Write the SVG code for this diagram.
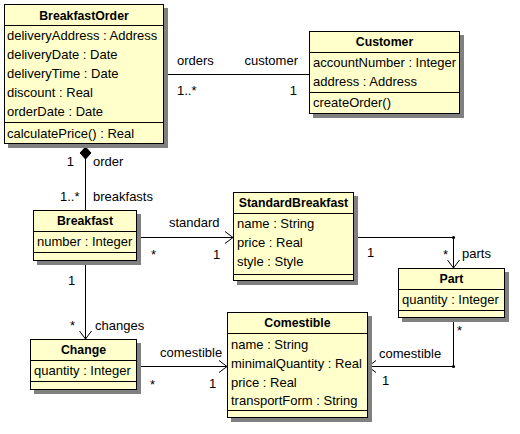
<svg xmlns="http://www.w3.org/2000/svg" width="520" height="434" viewBox="0 0 520 434">
<style>
.bg{fill:#ffffff}
.sh{fill:#808080}
.box{fill:#ffffcc;stroke:#000;stroke-width:1}
.sep{stroke:#000;stroke-width:1}
.t{font-family:"Liberation Sans",Arial,sans-serif;font-size:13px;fill:#000}
.b{font-family:"Liberation Sans",Arial,sans-serif;font-size:12.3px;font-weight:bold;fill:#000;text-anchor:middle}
.e{text-anchor:end}
.c{stroke:#000;stroke-width:1;fill:none}
</style>
<defs>
<marker id="open" markerUnits="userSpaceOnUse" viewBox="0 0 8 12" refX="8" refY="6" markerWidth="8" markerHeight="12" orient="auto" overflow="visible">
<path d="M0,0 L8,6 L0,12" fill="none" stroke="#000" stroke-width="1"/>
</marker>
</defs>
<rect class="bg" x="0" y="0" width="520" height="434"/>

<g id="connectors">
<line class="c" x1="163.5" y1="74.5" x2="309.5" y2="74.5"/>
<line class="c" x1="85.5" y1="158" x2="85.5" y2="210.5"/>
<polygon points="85.5,147 91,153 85.5,159 80,153" fill="#000" stroke="#000" stroke-width="1"/>
<line class="c" x1="136.5" y1="237.5" x2="233" y2="237.5" marker-end="url(#open)"/>
<polyline class="c" points="353.5,237.5 453.5,237.5 453.5,268" marker-end="url(#open)"/>
<circle cx="453.5" cy="237.5" r="1.6" fill="#000"/>
<polyline class="c" points="453.5,317.5 453.5,366.5 368,366.5" marker-end="url(#open)"/>
<circle cx="453.5" cy="366.5" r="1.6" fill="#000"/>
<line class="c" x1="85.5" y1="260.5" x2="85.5" y2="339" marker-end="url(#open)"/>
<line class="c" x1="136.5" y1="366.5" x2="227" y2="366.5" marker-end="url(#open)"/>

<text class="t" x="177" y="65">orders</text>
<text class="t e" x="298" y="65">customer</text>
<text class="t" x="177" y="95">1..*</text>
<text class="t e" x="297" y="95">1</text>

<text class="t e" x="74" y="166">1</text>
<text class="t" x="93" y="166">order</text>
<text class="t e" x="79.5" y="200.5">1..*</text>
<text class="t" x="93" y="200.5">breakfasts</text>

<text class="t" x="169" y="227">standard</text>
<text class="t" x="151" y="258.5">*</text>
<text class="t" x="213" y="258.5">1</text>

<text class="t" x="367" y="257">1</text>
<text class="t" x="443" y="258.5">*</text>
<text class="t" x="462" y="258">parts</text>

<text class="t" x="457" y="335">*</text>
<text class="t" x="379" y="357.5">comestible</text>
<text class="t" x="382" y="384.5">1</text>

<text class="t" x="68" y="284.5">1</text>
<text class="t" x="70" y="330">*</text>
<text class="t" x="95" y="329.5">changes</text>

<text class="t" x="160" y="357">comestible</text>
<text class="t" x="150" y="388.5">*</text>
<text class="t" x="209" y="388">1</text>
</g>

<g id="BreakfastOrder">
<rect class="sh" x="8" y="8" width="160" height="140"/>
<rect class="box" x="4.5" y="4.5" width="159" height="139"/>
<line class="sep" x1="4.5" y1="25.5" x2="163.5" y2="25.5"/>
<line class="sep" x1="4.5" y1="122.5" x2="163.5" y2="122.5"/>
<text class="b" x="84" y="19.5">BreakfastOrder</text>
<text class="t" x="7" y="39.5">deliveryAddress : Address</text>
<text class="t" x="7" y="58.5">deliveryDate : Date</text>
<text class="t" x="7" y="77.5">deliveryTime : Date</text>
<text class="t" x="7" y="96.5">discount : Real</text>
<text class="t" x="7" y="115.5">orderDate : Date</text>
<text class="t" x="7" y="137.5">calculatePrice() : Real</text>
</g>

<g id="Customer">
<rect class="sh" x="313" y="35" width="151" height="83"/>
<rect class="box" x="309.5" y="31.5" width="150" height="82"/>
<line class="sep" x1="309.5" y1="52.5" x2="459.5" y2="52.5"/>
<line class="sep" x1="309.5" y1="92.5" x2="459.5" y2="92.5"/>
<text class="b" x="384.5" y="46">Customer</text>
<text class="t" x="313" y="67">accountNumber : Integer</text>
<text class="t" x="313" y="86">address : Address</text>
<text class="t" x="313" y="107">createOrder()</text>
</g>

<g id="Breakfast">
<rect class="sh" x="37" y="214" width="104" height="51"/>
<rect class="box" x="33.5" y="210.5" width="103" height="50"/>
<line class="sep" x1="33.5" y1="231.5" x2="136.5" y2="231.5"/>
<line class="sep" x1="33.5" y1="252.5" x2="136.5" y2="252.5"/>
<text class="b" x="85" y="225">Breakfast</text>
<text class="t" x="37" y="246">number : Integer</text>
</g>

<g id="StandardBreakfast">
<rect class="sh" x="237" y="196" width="121" height="89"/>
<rect class="box" x="233.5" y="192.5" width="120" height="88"/>
<line class="sep" x1="233.5" y1="213.5" x2="353.5" y2="213.5"/>
<line class="sep" x1="233.5" y1="274.5" x2="353.5" y2="274.5"/>
<text class="b" x="293.5" y="207">StandardBreakfast</text>
<text class="t" x="237" y="228">name : String</text>
<text class="t" x="237" y="247">price : Real</text>
<text class="t" x="237" y="266">style : Style</text>
</g>

<g id="Part">
<rect class="sh" x="402" y="272" width="107" height="50"/>
<rect class="box" x="398.5" y="268.5" width="106" height="49"/>
<line class="sep" x1="398.5" y1="289.5" x2="504.5" y2="289.5"/>
<line class="sep" x1="398.5" y1="310.5" x2="504.5" y2="310.5"/>
<text class="b" x="451.5" y="283">Part</text>
<text class="t" x="402" y="304">quantity : Integer</text>
</g>

<g id="Comestible">
<rect class="sh" x="231" y="316" width="141" height="106"/>
<rect class="box" x="227.5" y="312.5" width="140" height="105"/>
<line class="sep" x1="227.5" y1="333.5" x2="367.5" y2="333.5"/>
<line class="sep" x1="227.5" y1="410.5" x2="367.5" y2="410.5"/>
<text class="b" x="297.5" y="327">Comestible</text>
<text class="t" x="231" y="348.5">name : String</text>
<text class="t" x="231" y="367.5">minimalQuantity : Real</text>
<text class="t" x="231" y="386.5">price : Real</text>
<text class="t" x="231" y="405">transportForm : String</text>
</g>

<g id="Change">
<rect class="sh" x="34" y="343" width="107" height="51"/>
<rect class="box" x="30.5" y="339.5" width="106" height="50"/>
<line class="sep" x1="30.5" y1="360.5" x2="136.5" y2="360.5"/>
<line class="sep" x1="30.5" y1="381.5" x2="136.5" y2="381.5"/>
<text class="b" x="83.5" y="354">Change</text>
<text class="t" x="34" y="375">quantity : Integer</text>
</g>
</svg>
